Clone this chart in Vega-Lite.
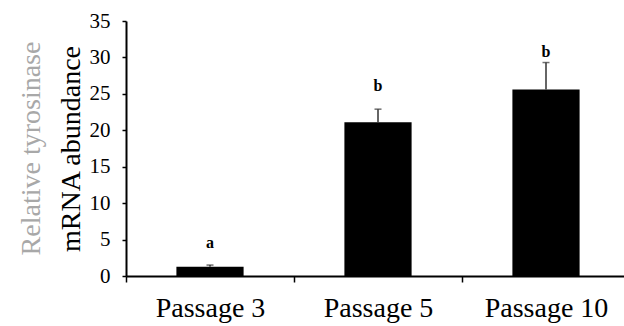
{
  "$schema": "https://vega.github.io/schema/vega-lite/v6.json",
  "width": 498,
  "height": 255,
  "autosize": "none",
  "padding": {"left": 126, "top": 21, "right": 0, "bottom": 50},
  "background": "white",
  "title": {
    "text": "Relative tyrosinase",
    "orient": "left",
    "anchor": "middle",
    "font": "Liberation Serif",
    "fontSize": 28,
    "fontWeight": "normal",
    "color": "#a8a8a8",
    "offset": 11
  },
  "config": {
    "view": {"stroke": null},
    "font": "Liberation Serif",
    "axis": {
      "titleFont": "Liberation Serif",
      "labelFont": "Liberation Serif"
    }
  },
  "data": {
    "values": [
      {"passage": "Passage 3", "value": 1.28, "upper": 1.5, "letter": "a", "letterY": 4.5},
      {"passage": "Passage 5", "value": 21.1, "upper": 22.9, "letter": "b", "letterY": 26.1},
      {"passage": "Passage 10", "value": 25.6, "upper": 29.3, "letter": "b", "letterY": 30.7}
    ]
  },
  "encoding": {
    "x": {
      "field": "passage",
      "type": "nominal",
      "sort": null,
      "scale": {"range": [0, 504], "paddingInner": 0, "paddingOuter": 0},
      "axis": {
        "title": null,
        "labelAngle": 0,
        "labelFont": "Liberation Serif",
        "labelFontSize": 28,
        "labelColor": "black",
        "labelPadding": 12,
        "tickBand": "extent",
        "ticks": true,
        "tickSize": 6,
        "tickColor": "black",
        "tickWidth": 1.5,
        "domainColor": "black",
        "domainWidth": 2
      }
    }
  },
  "layer": [
    {
      "mark": {"type": "bar", "color": "black", "width": {"band": 0.4}},
      "encoding": {
        "y": {
          "field": "value",
          "type": "quantitative",
          "scale": {"domain": [0, 35], "nice": false},
          "axis": {"title": "mRNA abundance", "values": [0, 5, 10, 15, 20, 25, 30, 35], "titleFont": "Liberation Serif", "titleFontSize": 28, "titleFontWeight": "normal", "titleColor": "black", "titlePadding": 4, "labelOverlap": false, "labelFlush": false, "grid": false, "labelFont": "Liberation Serif", "labelFontSize": 21, "labelColor": "black", "labelPadding": 12, "tickSize": 4, "tickColor": "black", "tickWidth": 1.5, "domainColor": "black", "domainWidth": 2}
        }
      }
    },
    {
      "mark": {"type": "rule", "color": "#333333", "strokeWidth": 1.5},
      "encoding": {
        "y": {"field": "value", "type": "quantitative", "scale": {"domain": [0, 35], "nice": false}, "axis": {"title": "mRNA abundance", "values": [0, 5, 10, 15, 20, 25, 30, 35], "titleFont": "Liberation Serif", "titleFontSize": 28, "titleFontWeight": "normal", "titleColor": "black", "titlePadding": 4, "labelOverlap": false, "labelFlush": false, "grid": false, "labelFont": "Liberation Serif", "labelFontSize": 21, "labelColor": "black", "labelPadding": 12, "tickSize": 4, "tickColor": "black", "tickWidth": 1.5, "domainColor": "black", "domainWidth": 2}},
        "y2": {"field": "upper"}
      }
    },
    {
      "mark": {"type": "tick", "color": "#333333", "size": 7, "thickness": 1.5, "orient": "horizontal"},
      "encoding": {
        "y": {"field": "upper", "type": "quantitative", "scale": {"domain": [0, 35], "nice": false}, "axis": {"title": "mRNA abundance", "values": [0, 5, 10, 15, 20, 25, 30, 35], "titleFont": "Liberation Serif", "titleFontSize": 28, "titleFontWeight": "normal", "titleColor": "black", "titlePadding": 4, "labelOverlap": false, "labelFlush": false, "grid": false, "labelFont": "Liberation Serif", "labelFontSize": 21, "labelColor": "black", "labelPadding": 12, "tickSize": 4, "tickColor": "black", "tickWidth": 1.5, "domainColor": "black", "domainWidth": 2}}
      }
    },
    {
      "mark": {"type": "text", "font": "Liberation Serif", "fontSize": 16, "fontWeight": "bold", "color": "black", "baseline": "middle"},
      "encoding": {
        "y": {"field": "letterY", "type": "quantitative", "scale": {"domain": [0, 35], "nice": false}, "axis": {"title": "mRNA abundance", "values": [0, 5, 10, 15, 20, 25, 30, 35], "titleFont": "Liberation Serif", "titleFontSize": 28, "titleFontWeight": "normal", "titleColor": "black", "titlePadding": 4, "labelOverlap": false, "labelFlush": false, "grid": false, "labelFont": "Liberation Serif", "labelFontSize": 21, "labelColor": "black", "labelPadding": 12, "tickSize": 4, "tickColor": "black", "tickWidth": 1.5, "domainColor": "black", "domainWidth": 2}},
        "text": {"field": "letter"}
      }
    }
  ]
}
